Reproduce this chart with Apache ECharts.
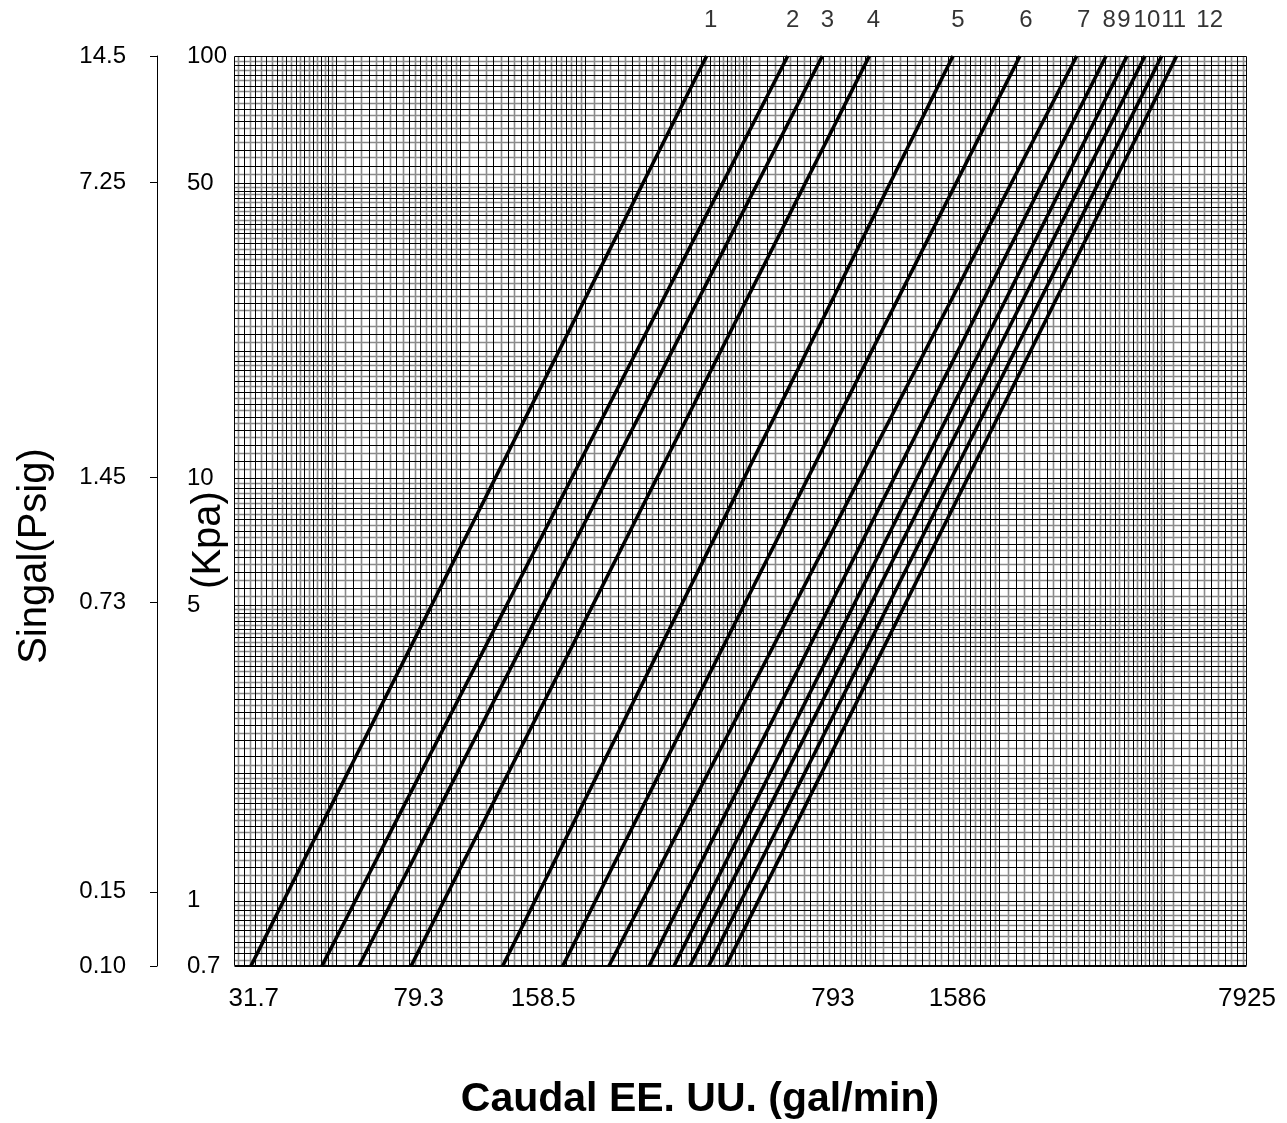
<!DOCTYPE html>
<html>
<head>
<meta charset="utf-8">
<script src="https://cdn.jsdelivr.net/npm/echarts@6/dist/echarts.min.js"></script>
<style>
  html, body { margin: 0; padding: 0; background: #fff; }
  #chart { width: 1287px; height: 1123px; }
</style>
</head>
<body>
<div id="chart"></div>
<script>
// Curve identifiers shown above each line
const curveNames = ['1', '2', '3', '4', '5', '6', '7', '8', '9', '10', '11', '12'];
// Flow (gal/min) of each curve at the lowest plotted pressure (0.7 kPa)
const flowAtLowPressure = [31.2, 46.3, 56.9, 76.0, 126.5, 176.6, 228.3, 285.3, 327.8, 358.3, 397.5, 437.7];
// Flow (gal/min) of each curve at the highest plotted pressure (100 kPa)
const flowAtHighPressure = [393.1, 616.9, 747.8, 971.0, 1545.8, 2243, 3075, 3621, 4067, 4494, 4931, 5360];
// Pressure (kPa) at both ends of every curve
const pressureEnds = [0.7, 100];

// Axis ranges
const flowRange = [28.4, 7925];
const kpaRange = [0.7, 100];
const psiRange = [0.10, 14.5];

// Tick values and their printed labels
const flowTicks = [31.7, 79.3, 158.5, 793, 1586, 7925];
const flowTickLabels = ['31.7', '79.3', '158.5', '793', '1586', '7925'];
const kpaTicks = [0.7, 1, 5, 10, 50, 100];
const kpaTickLabels = ['0.7', '1', '5', '10', '50', '100'];
const psiTicks = [0.10, 0.15, 0.73, 1.45, 7.25, 14.5];
const psiTickLabels = ['0.10', '0.15', '0.73', '1.45', '7.25', '14.5'];

// Horizontal nudge (px) of each curve name so the crowded names stay readable
const curveNameNudge = [4, 5, 5, 4, 5, 6, 7, 3, -3, 2, 12, 33];

// Log-paper rulings: [start, end, step] of the mantissa inside one decade (in tenths)
const rulingSegments = [[10, 20, 1], [20, 50, 2], [50, 100, 5]];

function paperRulings(lo, hi) {
  const major = [], minor = [];
  const d0 = Math.floor(Math.log10(lo)) - 1;
  const d1 = Math.ceil(Math.log10(hi));
  for (let d = d0; d <= d1; d++) {
    const scale = Math.pow(10, d);
    rulingSegments.forEach(([s, e, st]) => {
      for (let m = s; m < e; m += st) {
        major.push(m * scale);
        minor.push((m + st / 2) * scale);
      }
    });
  }
  const inside = v => v > lo && v < hi;
  return { major: major.filter(inside), minor: minor.filter(inside) };
}
const xRulings = paperRulings(flowRange[0], flowRange[1]);
const yRulings = paperRulings(kpaRange[0], kpaRange[1]);

function labelFor(values, labels) {
  return v => {
    let best = 0;
    values.forEach((t, i) => { if (Math.abs(Math.log(t) - Math.log(v)) < Math.abs(Math.log(values[best]) - Math.log(v))) best = i; });
    return labels[best];
  };
}

const FONT = '"Liberation Sans", Arial, Helvetica, sans-serif';

const chart = echarts.init(document.getElementById('chart'), null, { renderer: 'canvas' });

const curveSeries = curveNames.map((name, i) => ({
  name: name,
  type: 'line',
  xAxisIndex: 0,
  yAxisIndex: 0,
  data: [[flowAtLowPressure[i], pressureEnds[0]], [flowAtHighPressure[i], pressureEnds[1]]],
  symbol: 'none',
  lineStyle: { color: '#000', width: 3.6 },
  z: 5,
  silent: true,
  animation: false
}));

const curveLabelSeries = {
  type: 'scatter',
  xAxisIndex: 0,
  yAxisIndex: 0,
  data: curveNames.map((name, i) => ({
    value: [flowAtHighPressure[i], pressureEnds[1], name],
    label: { offset: [curveNameNudge[i], 0] }
  })),
  symbolSize: 1,
  itemStyle: { color: 'rgba(0,0,0,0)' },
  label: {
    show: true,
    position: 'top',
    distance: 23,
    formatter: p => p.value[2],
    color: '#000',
    fontFamily: FONT,
    fontSize: 24
  },
  z: 6,
  silent: true,
  animation: false
};

const paperSeries = {
  type: 'custom',
  xAxisIndex: 0,
  yAxisIndex: 0,
  data: [[flowRange[0], kpaRange[0]]],
  silent: true,
  z: 1,
  animation: false,
  renderItem: (params, api) => {
    const cs = params.coordSys;
    const left = Math.round(cs.x) + 0.5, right = Math.round(cs.x + cs.width) - 0.5;
    const top = Math.round(cs.y) + 0.5, bottom = Math.round(cs.y + cs.height) - 0.5;
    const children = [];
    const minorStyle = { stroke: '#8a8a8a', lineWidth: 1.6 };
    const majorStyle = { stroke: '#000', lineWidth: 1 };
    const vLine = (v, style) => {
      const px = Math.round(api.coord([v, kpaRange[0]])[0]) + 0.5;
      children.push({ type: 'line', shape: { x1: px, y1: top, x2: px, y2: bottom }, style });
    };
    const hLine = (v, style) => {
      const py = Math.round(api.coord([flowRange[0], v])[1]) + 0.5;
      children.push({ type: 'line', shape: { x1: left, y1: py, x2: right, y2: py }, style });
    };
    xRulings.minor.forEach(v => vLine(v, minorStyle));
    yRulings.minor.forEach(v => hLine(v, minorStyle));
    xRulings.major.forEach(v => vLine(v, majorStyle));
    yRulings.major.forEach(v => hLine(v, majorStyle));
    children.push({
      type: 'rect',
      shape: { x: left, y: top, width: right - left, height: bottom - top },
      style: { fill: null, stroke: '#000', lineWidth: 1 }
    });
    return { type: 'group', children };
  }
};

chart.setOption({
  animation: false,
  backgroundColor: '#fff',
  grid: { left: 234, top: 56, width: 1013, height: 910, containLabel: false, outerBoundsMode: 'none' },
  xAxis: [{
    type: 'log',
    logBase: 10,
    min: flowRange[0],
    max: flowRange[1],
    axisLine: { show: false },
    axisTick: { show: false },
    splitLine: { show: false },
    minorSplitLine: { show: false },
    axisLabel: {
      customValues: flowTicks,
      formatter: labelFor(flowTicks, flowTickLabels),
      margin: 20,
      color: '#000',
      fontFamily: FONT,
      fontSize: 26
    }
  }],
  yAxis: [{
    type: 'log',
    logBase: 10,
    position: 'left',
    min: kpaRange[0],
    max: kpaRange[1],
    axisLine: { show: false },
    axisTick: { show: false },
    splitLine: { show: false },
    axisLabel: {
      customValues: kpaTicks,
      formatter: labelFor(kpaTicks, kpaTickLabels),
      align: 'left',
      margin: 47,
      color: '#000',
      fontFamily: FONT,
      fontSize: 24
    }
  }, {
    type: 'log',
    logBase: 10,
    position: 'left',
    offset: 77,
    min: psiRange[0],
    max: psiRange[1],
    axisLine: { show: true, lineStyle: { color: '#000', width: 1 } },
    axisTick: { show: true, customValues: psiTicks, length: 7, lineStyle: { color: '#000', width: 1 } },
    splitLine: { show: false },
    axisLabel: {
      customValues: psiTicks,
      formatter: labelFor(psiTicks, psiTickLabels),
      margin: 31,
      color: '#000',
      fontFamily: FONT,
      fontSize: 24
    }
  }],
  graphic: [{
    type: 'text',
    x: 35, y: 556,
    rotation: Math.PI / 2,
    style: { text: 'Singal(Psig)', font: '40px ' + FONT, fill: '#000', align: 'center', verticalAlign: 'middle' }
  }, {
    type: 'text',
    x: 209, y: 540,
    rotation: Math.PI / 2,
    style: { text: '(Kpa)', font: '40px ' + FONT, fill: '#000', align: 'center', verticalAlign: 'middle' }
  }, {
    type: 'text',
    x: 700, y: 1100,
    style: { text: 'Caudal EE. UU. (gal/min)', font: 'bold 41px ' + FONT, fill: '#000', align: 'center', verticalAlign: 'middle' }
  }],
  series: [paperSeries].concat(curveSeries, [curveLabelSeries])
});
</script>
</body>
</html>
